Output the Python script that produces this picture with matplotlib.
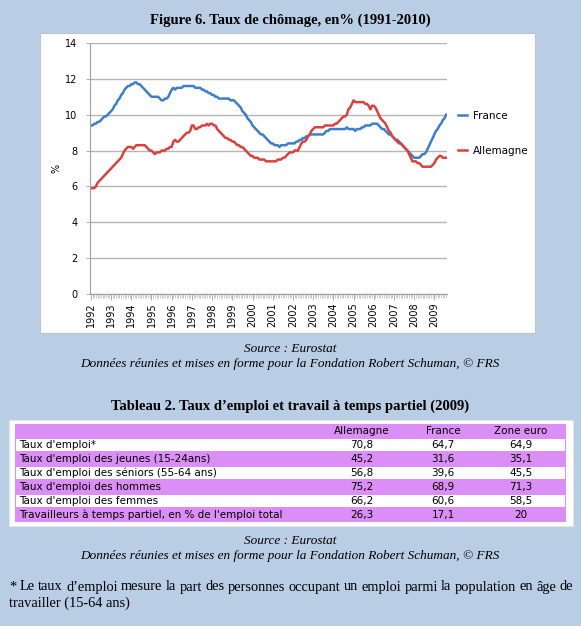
import matplotlib.pyplot as plt
from matplotlib.patches import Rectangle

# taux de chomage mensuel, janvier 1992 -> aout 2009
years = list(range(1992, 2010))
france = [
    9.4, 9.4, 9.5, 9.5, 9.6, 9.6, 9.7, 9.8, 9.9, 9.9, 10.0, 10.1,        # 1992
    10.2, 10.3, 10.5, 10.6, 10.8, 10.9, 11.1, 11.2, 11.4, 11.5, 11.6, 11.6,  # 1993
    11.7, 11.7, 11.8, 11.8, 11.7, 11.7, 11.6, 11.5, 11.4, 11.3, 11.2, 11.1,  # 1994
    11.0, 11.0, 11.0, 11.0, 11.0, 10.9, 10.8, 10.8, 10.9, 10.9, 11.0, 11.2,  # 1995
    11.4, 11.5, 11.4, 11.5, 11.5, 11.5, 11.5, 11.6, 11.6, 11.6, 11.6, 11.6,  # 1996
    11.6, 11.6, 11.5, 11.5, 11.5, 11.5, 11.4, 11.4, 11.3, 11.3, 11.2, 11.2,  # 1997
    11.1, 11.1, 11.0, 11.0, 10.9, 10.9, 10.9, 10.9, 10.9, 10.9, 10.9, 10.8,  # 1998
    10.8, 10.8, 10.7, 10.6, 10.5, 10.4, 10.2, 10.1, 10.0, 9.8, 9.7, 9.6,     # 1999
    9.4, 9.3, 9.2, 9.1, 9.0, 8.9, 8.9, 8.8, 8.7, 8.6, 8.5, 8.4,              # 2000
    8.4, 8.3, 8.3, 8.3, 8.2, 8.3, 8.3, 8.3, 8.3, 8.4, 8.4, 8.4,              # 2001
    8.4, 8.4, 8.5, 8.5, 8.6, 8.6, 8.7, 8.7, 8.8, 8.8, 8.9, 8.9,              # 2002
    8.9, 8.9, 8.9, 8.9, 8.9, 8.9, 8.9, 9.0, 9.1, 9.1, 9.2, 9.2,              # 2003
    9.2, 9.2, 9.2, 9.2, 9.2, 9.2, 9.2, 9.2, 9.3, 9.2, 9.2, 9.2,              # 2004
    9.2, 9.1, 9.2, 9.2, 9.2, 9.3, 9.3, 9.4, 9.4, 9.4, 9.4, 9.5,              # 2005
    9.5, 9.5, 9.5, 9.4, 9.3, 9.2, 9.2, 9.1, 9.0, 8.9, 8.9, 8.8,              # 2006
    8.7, 8.6, 8.6, 8.5, 8.4, 8.3, 8.2, 8.1, 8.0, 7.9, 7.8, 7.7,              # 2007
    7.6, 7.6, 7.6, 7.6, 7.7, 7.8, 7.8, 7.9, 8.1, 8.3, 8.5, 8.7,              # 2008
    8.9, 9.1, 9.2, 9.4, 9.5, 9.7, 9.8, 10.0,                                 # 2009
]
allemagne = [
    5.9, 5.9, 5.9, 6.0, 6.2, 6.3, 6.4, 6.5, 6.6, 6.7, 6.8, 6.9,              # 1992
    7.0, 7.1, 7.2, 7.3, 7.4, 7.5, 7.6, 7.8, 8.0, 8.1, 8.2, 8.2,              # 1993
    8.2, 8.1, 8.2, 8.3, 8.3, 8.3, 8.3, 8.3, 8.3, 8.2, 8.1, 8.0,              # 1994
    8.0, 7.9, 7.8, 7.9, 7.9, 7.9, 8.0, 8.0, 8.0, 8.1, 8.1, 8.2,              # 1995
    8.2, 8.5, 8.6, 8.5, 8.5, 8.6, 8.7, 8.8, 8.9, 9.0, 9.0, 9.1,              # 1996
    9.4, 9.4, 9.2, 9.2, 9.3, 9.3, 9.4, 9.4, 9.4, 9.5, 9.4, 9.5,              # 1997
    9.5, 9.4, 9.4, 9.2, 9.1, 9.0, 8.9, 8.8, 8.7, 8.7, 8.6, 8.6,              # 1998
    8.5, 8.5, 8.4, 8.3, 8.3, 8.2, 8.2, 8.1, 8.0, 7.9, 7.8, 7.7,              # 1999
    7.7, 7.6, 7.6, 7.6, 7.5, 7.5, 7.5, 7.5, 7.4, 7.4, 7.4, 7.4,              # 2000
    7.4, 7.4, 7.4, 7.5, 7.5, 7.5, 7.6, 7.6, 7.7, 7.8, 7.9, 7.9,              # 2001
    7.9, 8.0, 8.0, 8.0, 8.2, 8.4, 8.5, 8.5, 8.6, 8.8, 8.9, 9.1,              # 2002
    9.2, 9.3, 9.3, 9.3, 9.3, 9.3, 9.3, 9.4, 9.4, 9.4, 9.4, 9.4,              # 2003
    9.4, 9.5, 9.5, 9.6, 9.7, 9.8, 9.9, 9.9, 10.0, 10.3, 10.4, 10.6,          # 2004
    10.8, 10.7, 10.7, 10.7, 10.7, 10.7, 10.7, 10.6, 10.6, 10.5, 10.3, 10.5,  # 2005
    10.5, 10.4, 10.2, 10.0, 9.8, 9.7, 9.6, 9.5, 9.3, 9.1, 9.0, 8.8,          # 2006
    8.7, 8.6, 8.5, 8.4, 8.4, 8.3, 8.2, 8.1, 8.0, 7.8, 7.6, 7.4,              # 2007
    7.4, 7.4, 7.3, 7.3, 7.2, 7.1, 7.1, 7.1, 7.1, 7.1, 7.1, 7.2,              # 2008
    7.3, 7.5, 7.6, 7.7, 7.7, 7.6, 7.6, 7.6,                                  # 2009
]

# tableau 2
row_labels = [
    "Taux d'emploi*",
    "Taux d'emploi des jeunes (15-24ans)",
    "Taux d'emploi des séniors (55-64 ans)",
    "Taux d'emploi des hommes",
    "Taux d'emploi des femmes",
    "Travailleurs à temps partiel, en % de l'emploi total",
]
col_labels = ["Allemagne", "France", "Zone euro"]
emploi_allemagne = [70.8, 45.2, 56.8, 75.2, 66.2, 26.3]
emploi_france = [64.7, 31.6, 39.6, 68.9, 60.6, 17.1]
emploi_zone_euro = [64.9, 35.1, 45.5, 71.3, 58.5, 20]

BG = '#B9CDE5'
PURPLE = '#DB8FF6'
BLUE = '#3D7EC6'
RED = '#D9413F'
SERIF = 'Liberation Serif'
SANS = 'DejaVu Sans'

W, H = 581, 626


def fr_num(v):
    return f"{v:g}".replace('.', ',')


def main():
    fig = plt.figure(figsize=(W / 100, H / 100), dpi=100, facecolor=BG)

    # fond en pixels pour cadres, textes et tableau
    bg = fig.add_axes([0, 0, 1, 1], zorder=0)
    bg.set_xlim(0, W)
    bg.set_ylim(H, 0)
    bg.axis('off')

    bg.text(290, 20, "Figure 6. Taux de chômage, en% (1991-2010)", family=SERIF,
            weight='bold', fontsize=10.5, ha='center', va='center')
    bg.add_patch(Rectangle((40, 33), 495, 300, fc='white', ec='#c4c4c4', lw=0.8))
    bg.text(57, 168, "%", family=SANS, fontsize=7, rotation=90, ha='center', va='center')

    for y0 in (349, 541):
        bg.text(290, y0, "Source : Eurostat", family=SERIF, style='italic',
                fontsize=9.5, ha='center', va='center')
        bg.text(290, y0 + 15, "Données réunies et mises en forme pour la Fondation Robert Schuman, © FRS",
                family=SERIF, style='italic', fontsize=9.5, ha='center', va='center')

    bg.text(290, 406, "Tableau 2. Taux d’emploi et travail à temps partiel (2009)", family=SERIF,
            weight='bold', fontsize=10.5, ha='center', va='center')

    # tableau
    bg.add_patch(Rectangle((9, 420), 564, 106, fc='white', ec='#e6e6e6', lw=0.8))
    bg.add_patch(Rectangle((15, 424), 551, 98, fc=PURPLE, ec='none'))
    col_x = [362, 443, 521]
    for cx, name in zip(col_x, col_labels):
        bg.text(cx, 431, name, family=SANS, fontsize=7.5, ha='center', va='center')
    for i, lab in enumerate(row_labels):
        top = 438 + 14 * i
        if i % 2 == 0:
            bg.add_patch(Rectangle((16, top + 1), 549, 12, fc='white', ec='none'))
        yc = top + 7
        bg.text(19, yc, lab, family=SANS, fontsize=7.5, ha='left', va='center')
        for cx, vals in zip(col_x, (emploi_allemagne, emploi_france, emploi_zone_euro)):
            bg.text(cx, yc, fr_num(vals[i]), family=SANS, fontsize=7.5, ha='center', va='center')

    # note de bas de page, justifiee
    note1 = "* Le taux d’emploi mesure la part des personnes occupant un emploi parmi la population en âge de"
    words = note1.split()
    renderer = fig.canvas.get_renderer()
    arts = [bg.text(0, 587, w, family=SERIF, fontsize=10.4, ha='left', va='center') for w in words]
    widths = [a.get_window_extent(renderer).width for a in arts]
    gap = (573 - 9 - sum(widths)) / (len(words) - 1)
    x = 9
    for a, wd in zip(arts, widths):
        a.set_x(x)
        x += wd + gap
    bg.text(9, 603, "travailler (15-64 ans)", family=SERIF, fontsize=10.4, ha='left', va='center')

    # graphique
    ax = fig.add_axes([90 / W, 1 - 294 / H, 357 / W, 251 / H], zorder=1)
    ax.patch.set_alpha(0)
    months = range(len(france))
    ax.plot(months, france, color=BLUE, lw=1.8, label="France")
    ax.plot(months, allemagne, color=RED, lw=1.8, label="Allemagne")

    ax.set_xlim(-0.5, len(france) - 0.5)
    ax.set_ylim(0, 14)
    ax.set_yticks(range(0, 15, 2))
    ax.yaxis.grid(True, color='#b5b5b5', lw=1)
    ax.set_axisbelow(True)
    ax.set_xticks([12 * i for i in range(len(years))])
    ax.set_xticklabels([str(y) for y in years], rotation=90, family=SANS, fontsize=7)
    ax.set_xticks(list(months), minor=True)
    for lab in ax.get_yticklabels():
        lab.set_family(SANS)
        lab.set_fontsize(7)
    ax.tick_params(axis='x', which='major', length=4, width=0.6, color='#a0a0a0', pad=2)
    ax.tick_params(axis='x', which='minor', length=3, width=0.4, color='#a0a0a0')
    ax.tick_params(axis='y', length=3, width=0.6, color='#a0a0a0', pad=6)
    for s in ('top', 'right'):
        ax.spines[s].set_visible(False)
    for s in ('left', 'bottom'):
        ax.spines[s].set_color('#a0a0a0')
        ax.spines[s].set_linewidth(0.8)

    ax.legend(loc='center left', bbox_to_anchor=(1.03, 0.64), frameon=False,
              prop={'family': SANS, 'size': 7.5}, handlelength=0.9, handletextpad=0.6,
              labelspacing=2.4, borderpad=0, borderaxespad=0)

    fig.savefig("out.png", dpi=100, facecolor=BG)


if __name__ == "__main__":
    main()
